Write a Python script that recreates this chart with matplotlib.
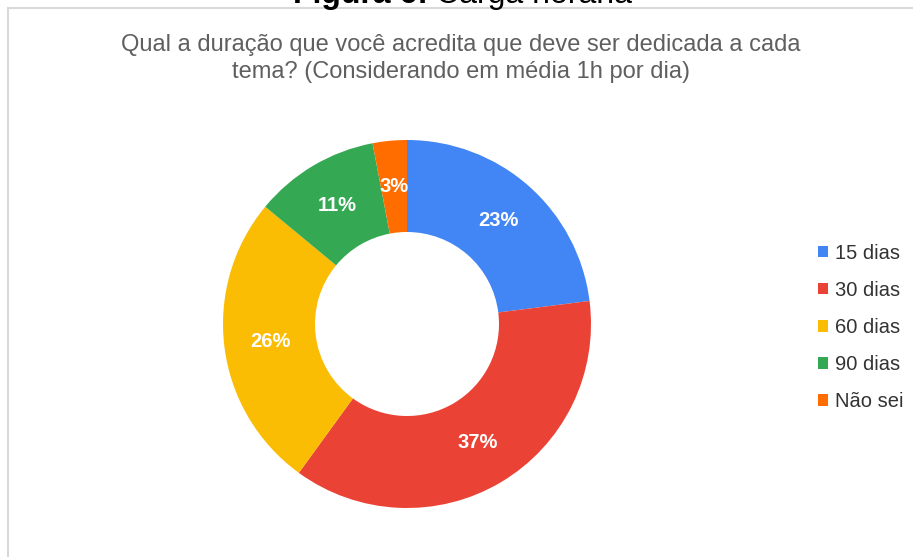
import matplotlib.pyplot as plt
from matplotlib.lines import Line2D

plt.rcParams['font.family'] = ['Liberation Sans', 'DejaVu Sans']

categories = ['15 dias', '30 dias', '60 dias', '90 dias', 'Não sei']
values = [23, 37, 26, 11, 3]
colors = ['#4285F4', '#EA4335', '#FBBC04', '#34A853', '#FF6D01']
title = 'Qual a duração que você acredita que deve ser dedicada a cada\ntema? (Considerando em média 1h por dia)'

W, H = 913, 557
fig = plt.figure(figsize=(W / 100, H / 100), dpi=100)

# donut: centre about (407, 324) px, radius 184 px
cx, cy, r = 407, 324, 184
ax = fig.add_axes([(cx - r) / W, (H - cy - r) / H, 2 * r / W, 2 * r / H])
wedges, texts, autotexts = ax.pie(values, colors=colors, startangle=90, counterclock=False,
                                  autopct='%1.0f%%', pctdistance=0.75,
                                  wedgeprops=dict(width=0.5, linewidth=0),
                                  textprops=dict(color='white', fontsize=14.5, fontweight='bold'))
ax.set_xlim(-1, 1)
ax.set_ylim(-1, 1)
ax.set_aspect('equal')
ax.axis('off')

# chart title
fig.text(461 / W, 1 - 58.5 / H, title, ha='center', va='center', fontsize=17,
         color='#5f5f5f', linespacing=1.3)

# legend
fig.legend(wedges, categories, loc='center left', bbox_to_anchor=(800 / W, 1 - 327.5 / H),
           frameon=False, fontsize=14.5, handlelength=0.5, handleheight=0.5,
           handletextpad=0.35, labelspacing=0.9, labelcolor='#333333')

# frame lines of the screenshot
fig.add_artist(Line2D([8 / W, 1], [1 - 8 / H, 1 - 8 / H], color='#d9d9d9', lw=1.5))
fig.add_artist(Line2D([8 / W, 8 / W], [0, 1 - 8 / H], color='#d9d9d9', lw=1.5))

# caption above, cut off by the top edge
split = 428
fig.text(split / W, 1 - 3 / H, 'Figura 6:', ha='right', va='baseline', fontsize=23,
         fontweight='bold', color='black')
fig.text((split + 8) / W, 1 - 3 / H, 'Carga horária', ha='left', va='baseline', fontsize=23,
         color='black')

fig.savefig('out.png', dpi=100)
